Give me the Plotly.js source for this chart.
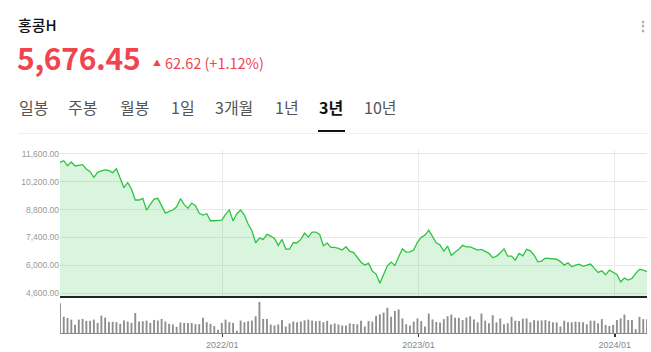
<!DOCTYPE html>
<html>
<head>
<meta charset="utf-8">
<script src="https://cdn.plot.ly/plotly-3.0.1.min.js"></script>
<style>
  html, body { margin: 0; padding: 0; width: 651px; height: 352px; background: #fff; overflow: hidden; }
  body { font-family: "Noto Sans CJK KR", "Noto Sans", sans-serif; position: relative; }
  #chart { position: absolute; left: 0; top: 0; width: 651px; height: 352px; }
  .abs { position: absolute; white-space: nowrap; line-height: 1; }
  #name { left: 18px; top: 17px; font-size: 15px; font-weight: 500; color: #111; }
  #price { left: 17px; top: 42px; font-size: 30px; font-weight: 700; color: #f0454f; letter-spacing: -0.3px; }
  #chg { left: 153px; top: 56px; font-size: 14.5px; font-weight: 400; color: #f0454f; }
  #chg .tri { font-size: 8px; vertical-align: 3px; margin-right: 4px; }
  .tab { top: 99px; font-size: 16px; color: #555; }
  .tab.on { color: #111; font-weight: 700; }
  #uline { left: 318px; top: 130px; width: 27px; height: 2px; background: #111; }
  #sep { left: 18px; top: 133px; width: 630px; height: 1px; background: #eeeeee; }
  #more { left: 636px; top: 18px; font-size: 14px; color: #aaa; font-weight: 700; }
</style>
</head>
<body>
<div id="chart"></div>
<div id="name" class="abs">홍콩H</div>
<div id="price" class="abs">5,676.45</div>
<div id="chg" class="abs"><span class="tri">▲</span>62.62 (+1.12%)</div>
<div class="abs tab" style="left:19px">일봉</div>
<div class="abs tab" style="left:68px">주봉</div>
<div class="abs tab" style="left:120px">월봉</div>
<div class="abs tab" style="left:171px">1일</div>
<div class="abs tab" style="left:215px">3개월</div>
<div class="abs tab" style="left:275px">1년</div>
<div class="abs tab on" style="left:319px">3년</div>
<div class="abs tab" style="left:364px">10년</div>
<div id="uline" class="abs"></div>
<div id="sep" class="abs"></div>
<div id="more" class="abs">⋮</div>
<script>
// Weekly data, first week starting 2021-03-05
const firstWeek = '2021-03-05';

const price = [
  11182, 11262, 11010, 11197, 10995, 11030, 11061, 10844, 10708, 10426,
  10678, 10750, 10800, 10758, 10658, 10859, 10375, 9902, 10154, 9836,
  9282, 9282, 9367, 8778, 9065, 9332, 9367, 8994, 8626, 8712,
  8778, 8944, 9347, 9065, 8863, 9130, 8994, 8611, 8526, 8591,
  8238, 8238, 8256, 8274, 8561, 8778, 8223, 8591, 8778, 8526,
  8072, 7734, 7130, 7366, 7301, 7553, 7467, 7351, 6998, 7301,
  6812, 6812, 7130, 7130, 7301, 7618, 7417, 7669, 7669, 7553,
  6978, 7114, 6898, 6898, 6850, 6762, 6928, 6696, 6646, 6424,
  6150, 6006, 6106, 5703, 5552, 5098, 5502, 5970, 6157, 5990,
  6424, 6827, 6661, 6670, 6762, 7165, 7402, 7518, 7770, 7432,
  7130, 7014, 6711, 6963, 6494, 6660, 6800, 6998, 6928, 6928,
  6830, 6762, 6797, 6676, 6595, 6374, 6459, 6610, 6827, 6459,
  6459, 6258, 6595, 6474, 6797, 6726, 6510, 6172, 6207, 6358,
  6350, 6343, 6300, 6180, 6006, 6121, 5920, 6000, 6056, 5940,
  6000, 6056, 5839, 5638, 5718, 5517, 5754, 5645, 5537, 5164,
  5350, 5250, 5335, 5587, 5789, 5754, 5676.45
];

const volume = [
  30.7, 16.8, 15.5, 13.8, 8.4, 13.8, 14.5, 12.5, 12.5, 13.8,
  10.4, 17.9, 15.8, 11.5, 11.5, 11.1, 9.4, 12.8, 11.8, 10.4,
  20.6, 11.8, 12.1, 12.8, 10.4, 13.5, 12.8, 14.5, 11.8, 9.4,
  8.8, 6.4, 10.8, 10.4, 10.4, 10.4, 9.1, 9.1, 15.8, 11.1,
  9.4, 7.1, 3.4, 10.4, 13.8, 11.1, 10.4, 2.4, 12.8, 11.1,
  12.1, 12.8, 17.2, 32.0, 14.5, 14.5, 8.8, 7.8, 8.8, 13.5,
  6.7, 9.8, 11.8, 11.1, 11.8, 13.1, 13.8, 12.8, 12.1, 12.5,
  11.1, 12.5, 8.8, 9.8, 8.8, 7.8, 7.8, 9.8,
  9.3, 9.0, 12.7, 6.7, 12.3, 11.7, 17.7, 19.3, 21.0, 26.0,
  16.7, 22.7, 24.3, 15.0, 9.0, 7.7, 11.7, 15.0, 12.3, 6.7,
  20.0, 14.0, 11.3, 10.7, 14.3, 17.3, 19.0, 15.7, 15.7, 13.3,
  16.0, 17.3, 14.0, 11.0, 20.0, 12.7, 10.0, 18.3, 11.0, 15.0,
  9.0, 10.0, 16.7, 12.7, 12.3, 14.7, 15.0, 11.0, 13.3, 12.7,
  13.0, 13.3, 12.3, 11.0, 11.0, 6.7, 12.7, 11.0, 11.0, 11.7,
  11.3, 11.0, 9.0, 12.7, 12.7, 10.0, 14.3, 8.3, 7.3, 8.3,
  13.3, 15.0, 19.0, 13.3, 13.3, 4.0, 16.7, 14.3, 14.3
];

const yTicks = [4600, 6000, 7400, 8800, 10200, 11600];
const xTickDates = ['2022-01-01', '2023-01-01', '2024-01-01'];
const xTickText = ['2022/01', '2023/01', '2024/01'];

// weekly date labels for each data point
const dates = [];
const d0 = new Date(firstWeek + 'T00:00:00Z');
for (let i = 0; i < price.length; i++) {
  const d = new Date(d0.getTime() + i * 7 * 86400000);
  dates.push(d.toISOString().slice(0, 10));
}
const xRange = [dates[0], dates[dates.length - 1]];

const traces = [
  {
    type: 'scatter', mode: 'lines', x: dates, y: price,
    xaxis: 'x', yaxis: 'y',
    line: { color: '#2ec442', width: 1.3 },
    fill: 'tozeroy', fillcolor: 'rgba(60,200,80,0.19)',
    hoverinfo: 'skip'
  },
  {
    type: 'bar', x: dates, y: volume,
    xaxis: 'x2', yaxis: 'y2',
    marker: { color: '#8e8e8e', line: { width: 0 } },
    hoverinfo: 'skip'
  }
];

const layout = {
  width: 651, height: 352,
  margin: { l: 60, r: 4, t: 150, b: 19 },
  paper_bgcolor: 'rgba(0,0,0,0)',
  plot_bgcolor: 'rgba(0,0,0,0)',
  showlegend: false,
  bargap: 0.5,
  font: { family: 'Liberation Sans, Arial, sans-serif', color: '#999' },
  xaxis: {
    type: 'date', range: xRange, anchor: 'y',
    tickvals: xTickDates, showticklabels: false, ticks: '',
    showgrid: true, gridcolor: '#ebebeb', gridwidth: 1,
    showline: true, linecolor: '#222', linewidth: 1.6,
    zeroline: false, fixedrange: true
  },
  yaxis: {
    domain: [0.2022, 1], range: [4450, 11800],
    tickvals: yTicks, tickformat: ',.2f',
    showgrid: true, gridcolor: '#e8e8e8', gridwidth: 1,
    zeroline: false, showline: false, ticks: '',
    tickfont: { size: 8.5, color: '#999' },
    fixedrange: true
  },
  xaxis2: {
    type: 'date', range: xRange, anchor: 'y2',
    tickvals: xTickDates, ticktext: xTickText,
    ticks: 'outside', ticklen: 3, tickwidth: 1.5, tickcolor: '#333',
    showgrid: false, showline: true, linecolor: '#888', linewidth: 1,
    zeroline: false,
    tickfont: { size: 9, color: '#888' },
    fixedrange: true
  },
  yaxis2: {
    domain: [0, 0.175], range: [0, 33],
    showticklabels: false, showgrid: false, zeroline: false, showline: false, ticks: '',
    fixedrange: true
  }
};

Plotly.newPlot('chart', traces, layout, { staticPlot: true, displayModeBar: false });
</script>
</body>
</html>
